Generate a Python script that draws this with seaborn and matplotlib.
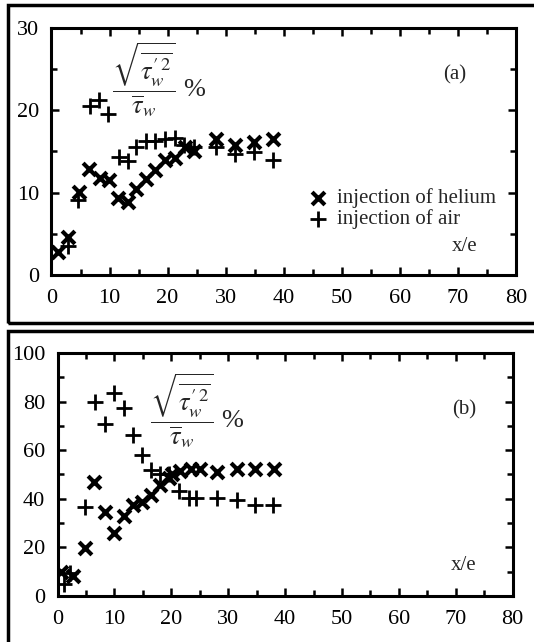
import numpy as np
import pandas as pd
import seaborn as sns
import matplotlib
matplotlib.use("Agg")
import matplotlib.pyplot as plt
from matplotlib.ticker import MultipleLocator
from matplotlib.patches import Rectangle

# ---- data: panel (a) ----
a_helium_x = [1.2, 2.9, 4.7, 6.5, 8.3, 9.9, 11.5, 13.1, 14.6, 16.3, 17.9, 19.6, 21.2, 23.0, 24.6, 28.3, 31.6, 34.8, 38.2]
a_helium_y = [2.8, 4.65, 10.1, 12.9, 11.8, 11.5, 9.3, 8.85, 10.5, 11.6, 12.8, 14.0, 14.2, 15.5, 15.0, 16.5, 15.8, 16.2, 16.5]
a_air_x = [2.9, 4.6, 6.6, 8.1, 9.7, 11.6, 13.2, 14.6, 16.3, 17.9, 19.6, 21.2, 22.8, 24.6, 28.3, 31.6, 34.8, 38.2]
a_air_y = [3.5, 9.05, 20.5, 21.3, 19.6, 14.3, 13.9, 15.6, 16.25, 16.25, 16.5, 16.6, 15.8, 15.6, 15.5, 14.7, 14.9, 14.0]

# ---- data: panel (b) ----
b_helium_x = [0.7, 2.7, 4.8, 6.5, 8.3, 9.9, 11.6, 13.2, 14.8, 16.4, 18.1, 19.6, 20.2, 21.6, 23.4, 25.0, 28.1, 31.5, 34.7, 38.0]
b_helium_y = [9.7, 8.3, 19.6, 46.8, 34.4, 25.9, 32.8, 37.6, 38.6, 41.7, 45.5, 48.6, 50.0, 51.4, 52.1, 52.1, 51.0, 52.1, 52.1, 52.1]
b_air_x = [1.2, 2.2, 4.9, 6.6, 8.4, 10.0, 11.6, 13.3, 14.8, 16.5, 18.1, 19.6, 21.3, 23.1, 24.4, 28.1, 31.5, 34.7, 37.9]
b_air_y = [5.1, 9.3, 36.5, 79.7, 70.7, 83.6, 77.2, 66.2, 57.9, 51.8, 50.0, 50.0, 43.4, 40.4, 40.4, 40.4, 39.4, 37.6, 37.6]

x_ticks = [0, 10, 20, 30, 40, 50, 60, 70, 80]
a_y_ticks = [0, 10, 20, 30]
b_y_ticks = [0, 20, 40, 60, 80, 100]

legend_labels = ["injection of helium", "injection of air"]

sns.set_theme(style="ticks")
plt.rcParams["font.family"] = ["Liberation Serif", "DejaVu Serif"]
plt.rcParams["mathtext.fontset"] = "stix"

fig = plt.figure(figsize=(5.34, 6.42), dpi=100)
fig.patch.set_facecolor("white")

ax_a = fig.add_axes([0.0964, 0.5717, 0.870, 0.3847])
ax_b = fig.add_axes([0.1077, 0.0717, 0.8524, 0.3785])

FS = 16
LFS = 15
formula = r"$\dfrac{\sqrt{\overline{\tau^{\prime\,2}_{w}}}}{\overline{\tau}_{w}}$ %"


def draw(ax, hx, hy, ax_x, ax_y, ylim, yticks, yminor):
    dh = pd.DataFrame({"x": hx, "y": hy})
    da = pd.DataFrame({"x": ax_x, "y": ax_y})
    sns.scatterplot(data=dh, x="x", y="y", ax=ax, marker="x", s=85,
                    linewidth=3.0, color="black", label=legend_labels[0], zorder=3)
    sns.scatterplot(data=da, x="x", y="y", ax=ax, marker="+", s=120,
                    linewidth=2.0, color="black", label=legend_labels[1], zorder=3)
    ax.set_xlim(0, 80)
    ax.set_ylim(*ylim)
    ax.set_xticks(x_ticks)
    ax.set_yticks(yticks)
    ax.xaxis.set_minor_locator(MultipleLocator(5))
    ax.yaxis.set_minor_locator(MultipleLocator(yminor))
    ax.tick_params(which="both", direction="in", top=True, right=True,
                   colors="black", labelsize=FS, width=1.8)
    ax.tick_params(axis="x", which="major", length=6, pad=10)
    ax.tick_params(axis="y", which="major", length=6, pad=9)
    ax.tick_params(which="minor", length=4)
    for s in ax.spines.values():
        s.set_linewidth(2.2)
        s.set_color("black")
    ax.set_xlabel("")
    ax.set_ylabel("")
    ax.set_facecolor("white")


draw(ax_a, a_helium_x, a_helium_y, a_air_x, a_air_y, (0, 30), a_y_ticks, 5)
draw(ax_b, b_helium_x, b_helium_y, b_air_x, b_air_y, (0, 100), b_y_ticks, 10)

# panel (a) annotations + legend
ax_a.legend(loc="upper left", bbox_to_anchor=(0.515, 0.41), frameon=False,
            fontsize=LFS, handletextpad=0.3, labelspacing=0.05, borderpad=0.2,
            handlelength=1.2)
ax_a.text(18.5, 23.8, formula, fontsize=19, ha="center", va="center")
ax_a.text(69.5, 24.3, "(a)", fontsize=LFS, ha="center", va="center")
ax_a.text(71.2, 3.4, "x/e", fontsize=LFS, ha="center", va="center")

# panel (b) annotations
ax_b.get_legend().remove()
ax_b.text(24.5, 76.5, formula, fontsize=19, ha="center", va="center")
ax_b.text(71.4, 76.4, "(b)", fontsize=LFS, ha="center", va="center")
ax_b.text(71.4, 12.4, "x/e", fontsize=LFS, ha="center", va="center")

# panel frames
fig.patches.append(Rectangle((7.5 / 534, (642 - 323) / 642), 1.1, (323 - 4.7) / 642,
                             transform=fig.transFigure, fill=False, lw=2.5,
                             edgecolor="black", zorder=0))
fig.patches.append(Rectangle((7.5 / 534, -0.1), 1.1, (642 - 331) / 642 + 0.1,
                             transform=fig.transFigure, fill=False, lw=2.5,
                             edgecolor="black", zorder=0))

fig.savefig("out.png", dpi=100, facecolor="white")
